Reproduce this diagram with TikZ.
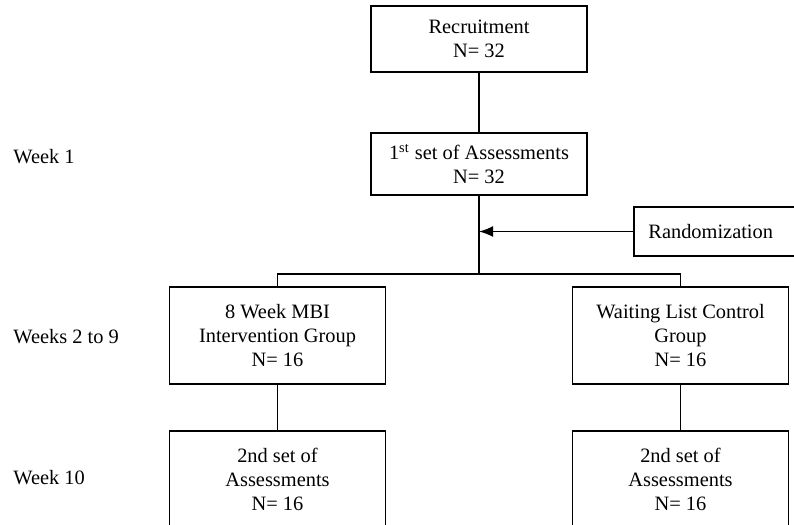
\documentclass[tikz,border=0pt]{standalone}
\usepackage{fontspec}
\setmainfont{Liberation Serif}
\usetikzlibrary{arrows.meta}

\begin{document}
\begin{tikzpicture}[
    x=0.5pt, y=-0.5pt,
    box/.style={
        rectangle,
        draw=black, line width=0.8pt,
        fill=white,
        font=\fontsize{10.2}{12}\selectfont,
        align=center,
        minimum width=108pt,
        inner sep=2pt,
    },
    weeklabel/.style={
        anchor=west, inner sep=0pt,
        font=\fontsize{10.2}{12}\selectfont,
    },
    link/.style={
        draw=black, line width=0.8pt,
    },
    arrow/.style={
        link, -{Latex[length=7pt,width=5.5pt]},
    },
]

\clip (0,0) rectangle (794,525);

% centre column
\node[box, minimum height=33pt] (recruit) at (479,39) {Recruitment\\N= 32};
\node[box, minimum height=31pt] (assess1) at (479,164) {1\textsuperscript{st} set of Assessments\\N= 32};
% randomization box runs off the right edge
\node[box, draw=none, anchor=west, minimum width=100pt, minimum height=23.5pt, inner xsep=7pt] (random) at (634,231.5) {};
\node[weeklabel, font=\fontsize{10.2}{12}\selectfont] (randomtext) at (648,231.5) {Randomization};
\draw[link] (random.north east) -- (random.north west) -- (random.south west) -- (random.south east);
\coordinate (split) at (479,274);

% the two groups
\node[box, minimum height=48.5pt] (interv) at (277.5,335.5) {8 Week MBI\\Intervention Group\\N= 16};
\node[box, minimum height=48.5pt] (waitlist) at (680.5,335.5) {Waiting List Control\\Group\\N= 16};
\node[box, minimum height=48.5pt] (assess2a) at (277.5,479.5) {2nd set of\\Assessments\\N= 16};
\node[box, minimum height=48.5pt] (assess2b) at (680.5,479.5) {2nd set of\\Assessments\\N= 16};

% time line on the left
\node[weeklabel] (week1) at (13,157) {Week 1};
\node[weeklabel] (week2) at (13,337) {Weeks 2 to 9};
\node[weeklabel] (week10) at (13,478) {Week 10};

% connectors
\draw[link] (recruit) -- (assess1);
\draw[link] (assess1) -- (split);
\draw[arrow] (random.west) -- (random.west -| split);
\draw[link] (interv) |- (split) -| (waitlist);
\draw[link] (interv) -- (assess2a);
\draw[link] (waitlist) -- (assess2b);

\end{tikzpicture}
\end{document}
